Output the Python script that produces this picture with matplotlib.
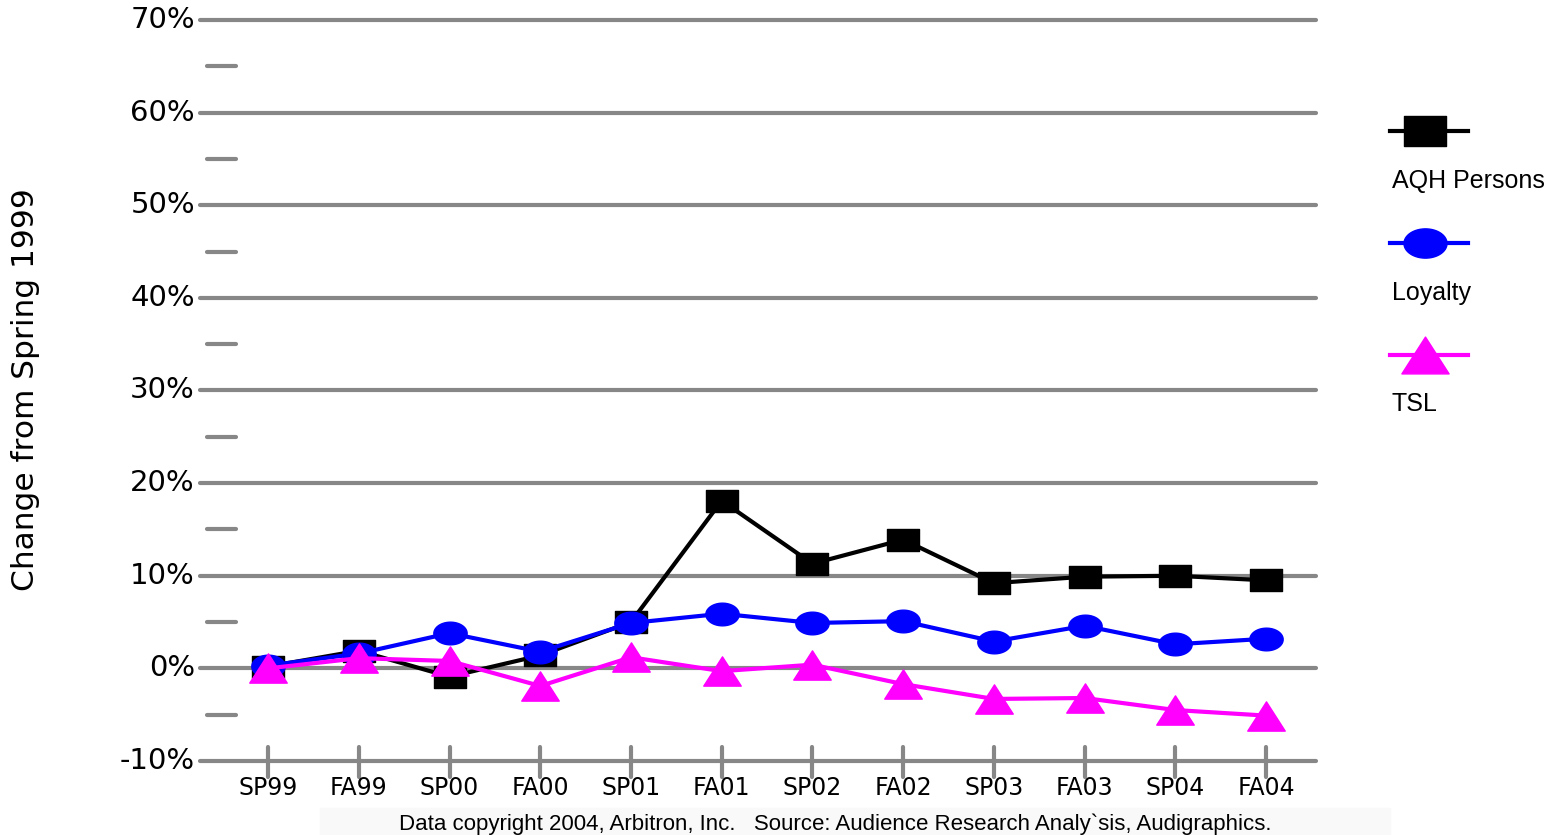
import matplotlib
matplotlib.use("Agg")
import matplotlib.pyplot as plt
from matplotlib.path import Path
from matplotlib.lines import Line2D
import matplotlib.transforms as mtransforms
import numpy as np

# ---------------- data ----------------
categories = ["SP99", "FA99", "SP00", "FA00", "SP01", "FA01",
              "SP02", "FA02", "SP03", "FA03", "SP04", "FA04"]
aqh_persons = [0.2, 1.9, -0.9, 1.4, 5.0, 18.1, 11.3, 13.9, 9.2, 9.9, 10.0, 9.5]
loyalty = [0.3, 1.6, 3.8, 1.8, 4.9, 5.9, 4.9, 5.1, 2.9, 4.6, 2.6, 3.2]
tsl = [0.0, 1.1, 0.8, -1.9, 1.2, -0.3, 0.4, -1.7, -3.3, -3.2, -4.5, -5.1]
series_names = ["AQH Persons", "Loyalty", "TSL"]
major_ticks = [-10, 0, 10, 20, 30, 40, 50, 60, 70]
minor_ticks = [-5, 5, 15, 25, 35, 45, 55, 65]
y_label = "Change from Spring 1999"
footer = "Data copyright 2004, Arbitron, Inc.   Source: Audience Research Analy`sis, Audigraphics."

# ---------------- style ----------------
W, H, DPI = 1554, 835, 100
GRID = "#878787"
FONT = "Liberation Sans"

# stretched markers (wider than tall)
sq_path = Path([(-1, -0.7), (1, -0.7), (1, 0.7), (-1, 0.7), (-1, -0.7)],
               [Path.MOVETO, Path.LINETO, Path.LINETO, Path.LINETO, Path.CLOSEPOLY])
th = np.linspace(0, 2 * np.pi, 60)
ell_path = Path(np.column_stack([np.cos(th), 0.68 * np.sin(th)]))
tri_path = Path([(0, 0.78), (-1, -0.78), (1, -0.78), (0, 0.78)],
                [Path.MOVETO, Path.LINETO, Path.LINETO, Path.CLOSEPOLY])

fig = plt.figure(figsize=(W / DPI, H / DPI), dpi=DPI)
ax_l, ax_r, ax_t, ax_b = 200, 1316, 20, 761
ax = fig.add_axes([ax_l / W, 1 - ax_b / H, (ax_r - ax_l) / W, (ax_b - ax_t) / H])
x = list(range(len(categories)))
ax.set_xlim(-0.75, 11.55)
ax.set_ylim(-10, 70)
for s in ax.spines.values():
    s.set_visible(False)
ax.set_xticks([])
ax.set_yticks([])

# gridlines (major)
for v in major_ticks:
    ax.plot([0, 1], [v, v], transform=ax.get_yaxis_transform(), color=GRID,
            lw=3, solid_capstyle="round", clip_on=False, zorder=1)
    ax.text(-5 / (ax_r - ax_l), v, f"{v}%", transform=ax.get_yaxis_transform(),
            ha="right", va="center", fontsize=21, family="DejaVu Sans", color="black")
# minor tick dashes
for v in minor_ticks:
    ax.plot([7 / (ax_r - ax_l), 36 / (ax_r - ax_l)], [v, v],
            transform=ax.get_yaxis_transform(), color=GRID, lw=3,
            solid_capstyle="round", clip_on=False, zorder=1)

# x ticks: vertical marks across the bottom axis line
xt = mtransforms.blended_transform_factory(ax.transData, ax.transAxes)
for i in x:
    ax.plot([i, i], [-16 / (ax_b - ax_t), 14 / (ax_b - ax_t)], transform=xt,
            color=GRID, lw=3, solid_capstyle="round", clip_on=False, zorder=1)
    ax.text(i, -27 / (ax_b - ax_t), categories[i], transform=xt, ha="center",
            va="center", fontsize=17, family="DejaVu Sans", color="black")

# series
ax.plot(x, aqh_persons, color="black", lw=3, marker=sq_path, ms=23,
        mfc="black", mec="black", zorder=3, clip_on=False)
ax.plot(x, loyalty, color="#0000ff", lw=3, marker=ell_path, ms=24,
        mfc="#0000ff", mec="#0000ff", zorder=4, clip_on=False)
ax.plot(x, tsl, color="#ff00ff", lw=3, marker=tri_path, ms=27,
        mfc="#ff00ff", mec="#ff00ff", zorder=5, clip_on=False)

# y label
fig.text(26 / W, 1 - 390 / H, y_label, rotation=90, ha="center", va="center",
         fontsize=22.5, family="DejaVu Sans", color="black")

# legend (manual)
leg_specs = [("black", sq_path, 30, 131, 181),
             ("#0000ff", ell_path, 31, 243, 293),
             ("#ff00ff", tri_path, 34, 355, 404)]
for (col, mk, ms, ym, yt), name in zip(leg_specs, series_names):
    fig.add_artist(Line2D([1390 / W, 1468 / W], [1 - ym / H, 1 - ym / H],
                          transform=fig.transFigure, color=col, lw=3))
    fig.add_artist(Line2D([1425 / W], [1 - ym / H], transform=fig.transFigure,
                          marker=mk, ms=ms, mfc=col, mec=col, lw=0))
    fig.text(1392 / W, 1 - yt / H, name, ha="left", va="center", fontsize=18,
             family=FONT, color="black")

# footer box
fig.patches.append(plt.Rectangle((320 / W, 0), (1390 - 320) / W, 27 / H,
                                 transform=fig.transFigure, color="#f9f9f9",
                                 zorder=0))
fig.text(835 / W, 1 - 824 / H, footer, ha="center", va="center", fontsize=16,
         family=FONT, color="black")

fig.savefig("out.png", dpi=DPI)
